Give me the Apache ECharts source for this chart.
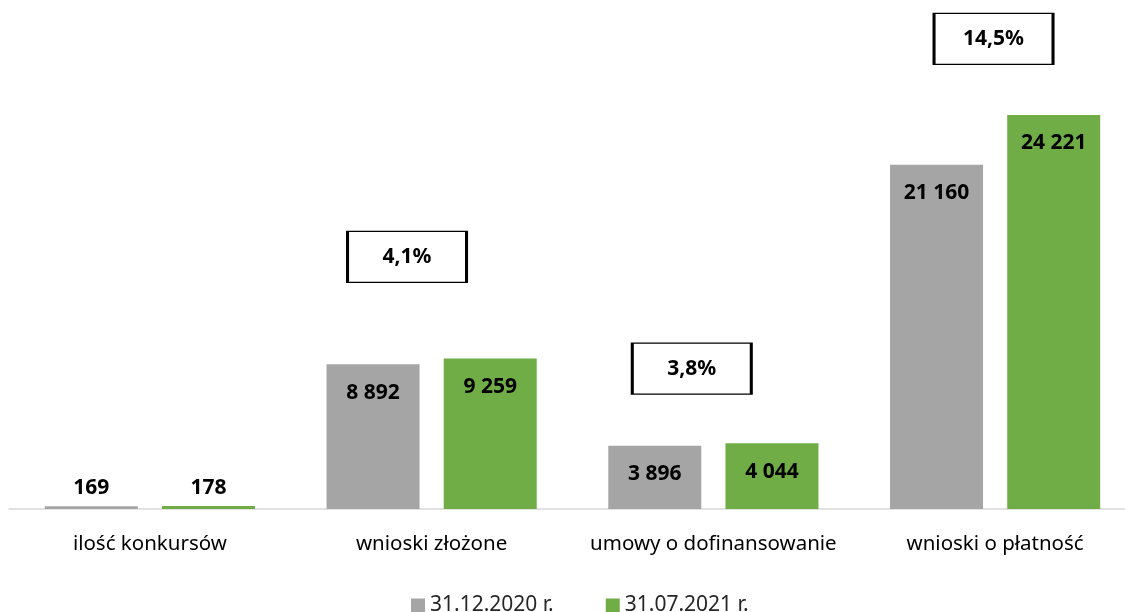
<!DOCTYPE html>
<html>
<head>
<meta charset="utf-8">
<script src="https://cdn.jsdelivr.net/npm/echarts@6/dist/echarts.min.js"></script>
<style>
    html, body { margin: 0; padding: 0; background: #fff; overflow: hidden; }
    #chart { width: 1136px; height: 612px; }
</style>
</head>
<body>
<div id="chart"></div>
<script>
    // kategorie i wartości
    const categories = ['ilość konkursów', 'wnioski złożone', 'umowy o dofinansowanie', 'wnioski o płatność'];
    const seriesNames = ['31.12.2020 r.', '31.07.2021 r.'];
    const values2020 = [169, 8892, 3896, 21160];
    const values2021 = [178, 9259, 4044, 24221];
    // przyrost procentowy (ramki)
    const growthLabels = ['', '4,1%', '3,8%', '14,5%'];
    const growthLevel = [null, 15500, 8630, 28900];

    const fontFamily = '"Noto Sans", "Open Sans", sans-serif';

    function fmt(v) {
        return String(v).replace(/\B(?=(\d{3})+(?!\d))/g, ' ');
    }

    // małe słupki mają etykietę nad słupkiem
    function barData(arr) {
        return arr.map(function (v) {
            if (v < 1000) {
                return { value: v, label: { position: 'top', distance: 8 } };
            }
            return v;
        });
    }

    // ramki liczone od środka szarego słupka
    const boxShift = [0, 34, 37, 57];
    const growthPoints = [];
    growthLabels.forEach(function (t, i) {
        if (!t) return;
        growthPoints.push({
            coord: [i, growthLevel[i]],
            value: t,
            symbolOffset: [boxShift[i], 0]
        });
    });

    const barLabel = {
        show: true,
        position: 'insideTop',
        distance: 18,
        color: '#000',
        fontSize: 21,
        fontWeight: 'bold',
        fontFamily: fontFamily,
        formatter: function (p) { return fmt(p.value); }
    };

    let myChart = echarts.init(document.getElementById('chart'));
    myChart.setOption({
        animation: false,
        textStyle: { fontFamily: fontFamily },
        legend: {
            data: seriesNames,
            bottom: -9,
            left: 406,
            itemWidth: 14,
            itemHeight: 14,
            itemGap: 52,
            icon: 'rect',
            textStyle: { color: '#262626', fontSize: 21, fontFamily: fontFamily }
        },
        grid: {
            left: 9,
            right: 0,
            top: 21,
            bottom: 103,
            containLabel: false
        },
        xAxis: {
            type: 'category',
            data: categories,
            axisLine: { lineStyle: { color: '#D9D9D9', width: 1.5 } },
            axisTick: { show: false },
            axisLabel: { color: '#000', fontSize: 20.5, margin: 25, interval: 0, fontFamily: fontFamily }
        },
        yAxis: {
            type: 'value',
            min: 0,
            max: 30000,
            show: false,
            splitLine: { show: false }
        },
        series: [{
            name: seriesNames[0],
            type: 'bar',
            barWidth: 93,
            barGap: '26%',
            itemStyle: { color: '#A5A5A5' },
            data: barData(values2020),
            label: barLabel,
            markPoint: {
                symbol: 'rect',
                symbolSize: [119, 51],
                itemStyle: { color: '#fff', borderColor: '#000', borderWidth: 2 },
                label: {
                    show: true,
                    position: 'inside',
                    color: '#000',
                    fontSize: 21,
                    fontWeight: 'bold',
                    fontFamily: fontFamily,
                    formatter: function (p) { return p.value; }
                },
                data: growthPoints
            }
        }, {
            name: seriesNames[1],
            type: 'bar',
            barWidth: 93,
            barGap: '26%',
            itemStyle: { color: '#70AD47' },
            data: barData(values2021),
            label: barLabel
        }]
    });
</script>
</body>
</html>
